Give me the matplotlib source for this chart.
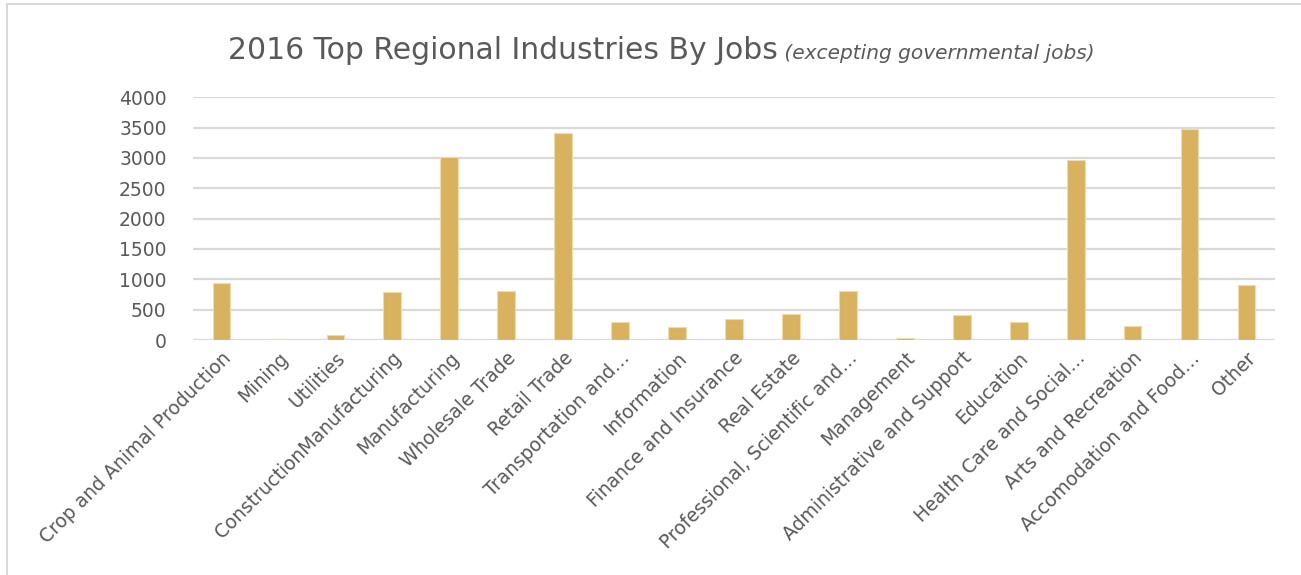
import matplotlib.pyplot as plt
import matplotlib.patches as mpatches
import numpy as np

# Jobs by industry, 2016
industries = ['Crop and Animal Production', 'Mining', 'Utilities',
              'ConstructionManufacturing', 'Manufacturing', 'Wholesale Trade',
              'Retail Trade', 'Transportation and\u2026', 'Information',
              'Finance and Insurance', 'Real Estate',
              'Professional, Scientific and\u2026', 'Management',
              'Administrative and Support', 'Education',
              'Health Care and Social\u2026', 'Arts and Recreation',
              'Accomodation and Food\u2026', 'Other']
jobs = [935, 16, 87, 795, 3010, 805, 3418, 302, 210, 352, 435, 808, 38,
        418, 302, 2962, 232, 3472, 914]
yticks = [0, 500, 1000, 1500, 2000, 2500, 3000, 3500, 4000]

txt = '#595959'
grid = '#d9d9d9'
plt.rcParams['font.family'] = ['DejaVu Sans']

fig = plt.figure(figsize=(13.01, 5.75), dpi=100)
ax = fig.add_axes([193/1301, 1-340/575, (1275-193)/1301, (340-97.3)/575])

x = np.arange(len(industries))
ax.bar(x, jobs, width=0.31, color='#d8b25e', edgecolor='#efdcaa',
       linewidth=0.8, zorder=3)

ax.set_xlim(-0.5, len(industries)-0.5)
ax.set_ylim(0, 4000)
ax.set_yticks(yticks)
ax.set_yticklabels([str(v) for v in yticks], fontsize=13.5, color=txt)
ax.set_xticks(x)
ax.set_xticklabels(industries, rotation=45, ha='right',
                   rotation_mode='anchor', fontsize=13.5, color=txt)
ax.tick_params(length=0)
ax.tick_params(axis='y', pad=19)
ax.tick_params(axis='x', pad=6)
ax.yaxis.grid(True, color=grid, linewidth=1.6, zorder=0)
for s in ax.spines.values():
    s.set_visible(False)

# title: plain part + italic note, centred together
t1 = fig.text(0, 0, '2016 Top Regional Industries By Jobs', fontsize=21.5,
              color=txt)
t2 = fig.text(0, 0, ' (excepting governmental jobs)', fontsize=14.5,
              color=txt, style='italic')
fig.canvas.draw()
r = fig.canvas.get_renderer()
w1 = t1.get_window_extent(r).width
w2 = t2.get_window_extent(r).width
x0 = 661 - (w1 + w2) / 2
yb = 1 - 59/575
t1.set_position((x0/1301, yb))
t2.set_position(((x0 + w1)/1301, yb))

# chart frame
fig.patches.append(mpatches.Rectangle((7/1301, -0.1), 1.2, 1 - 3.5/575 + 0.1,
                                      transform=fig.transFigure, fill=False,
                                      edgecolor=grid, linewidth=1.5))

fig.savefig('out.png', dpi=100)
